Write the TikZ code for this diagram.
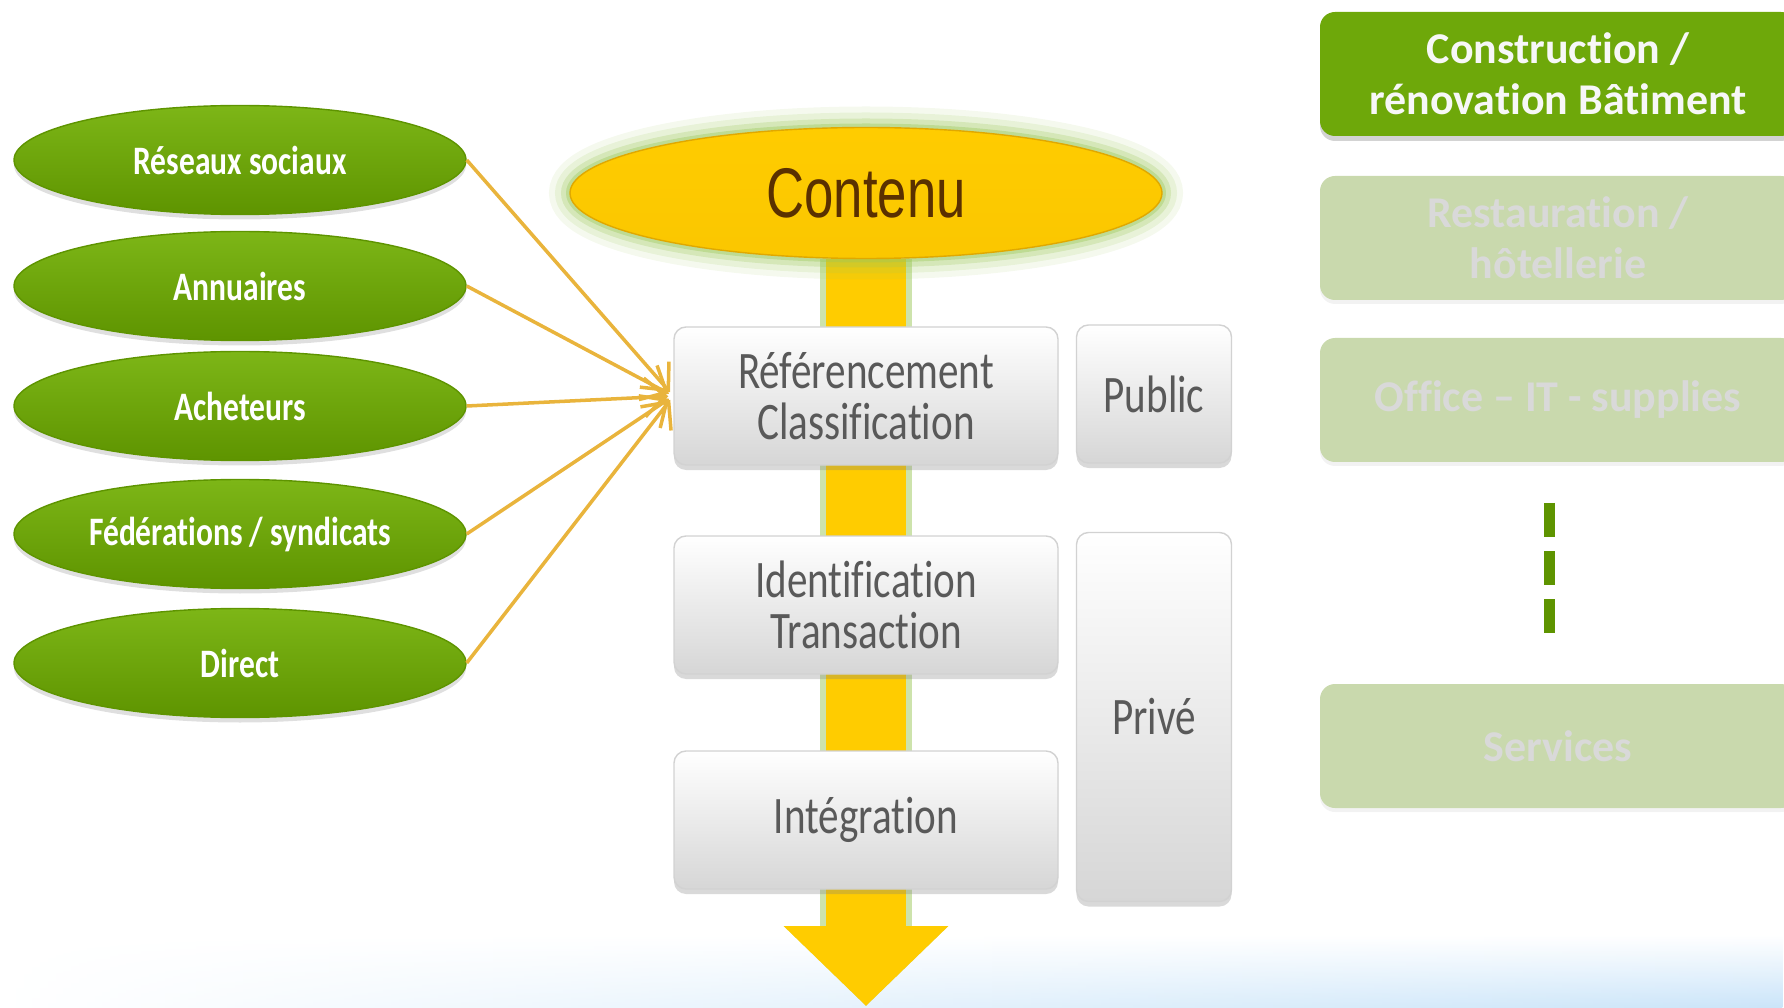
\documentclass[tikz,border=0pt]{standalone}
\usepackage{fontspec}
\setmainfont{Carlito}[FakeStretch=0.78, Ligatures={TeX,NoCommon}]
\newfontfamily\sectorfont{Carlito}[Ligatures={TeX,NoCommon}]
\newfontfamily\contenufont{Liberation Sans}[FakeStretch=0.75]
\usetikzlibrary{shapes.geometric,arrows.meta,shadows,fadings,backgrounds}

\definecolor{leafgreen}{HTML}{6EA80A}
\definecolor{leafdark}{HTML}{5E9400}
\definecolor{leaflight}{HTML}{7DB617}
\definecolor{sun}{HTML}{FFCC00}
\definecolor{sundark}{HTML}{E0A800}
\definecolor{linkgold}{HTML}{E9B43C}
\definecolor{boxgray}{HTML}{D6D6D6}
\definecolor{textgray}{HTML}{595959}
\definecolor{paleleaf}{HTML}{C9D9AD}
\definecolor{paletext}{HTML}{D9D9D9}
\definecolor{skyband}{HTML}{C4E1F8}
\definecolor{glow}{HTML}{9CC85A}
\definecolor{brownish}{HTML}{5A3000}

\tikzfading[name=fade left, left color=transparent!100, right color=transparent!10]

\begin{document}
\begin{tikzpicture}
\tikzstyle{every node}+=[inner sep=0pt]
\tikzstyle{source}=[ellipse, minimum width=4.52cm, minimum height=1.09cm, top color=leaflight, bottom color=leafdark, draw=leafdark, drop shadow={opacity=0.25,shadow xshift=0pt,shadow yshift=-0.05cm}, text=white, font=\bfseries\fontsize{11.5}{12}\selectfont]
\tikzstyle{stage}=[rectangle, rounded corners=0.12cm, minimum width=3.84cm, minimum height=1.38cm, top color=white, bottom color=boxgray, draw=gray!35, drop shadow={opacity=0.3,shadow xshift=0pt,shadow yshift=-0.05cm}, text=textgray, align=center, font=\fontsize{15}{14.6}\selectfont]
\tikzstyle{access}=[stage, minimum width=1.55cm]
\tikzstyle{sector}=[rectangle, rounded corners=0.15cm, minimum width=4.76cm, minimum height=1.24cm, align=center, font=\sectorfont\bfseries\fontsize{12.5}{14.6}\selectfont]
\tikzstyle{active}=[sector, fill=leafgreen, text=white!94!gray, drop shadow={opacity=0.35,shadow xshift=0pt,shadow yshift=-0.05cm}]
\tikzstyle{faded}=[sector, fill=paleleaf, text=paletext, drop shadow={opacity=0.1,shadow xshift=0pt,shadow yshift=-0.04cm}]
\tikzstyle{link}=[draw=linkgold, line width=1pt, shorten >=0.05cm, -{Straight Barb[length=6pt,width=11pt]}]
\tikzstyle{flow}=[draw=sun, line width=0.8cm, -{Triangle[width=1.6cm,length=0.8cm]}, preaction={draw=glow, line width=0.92cm, opacity=0.5}]
\useasboundingbox (0,0) rectangle (17.84,-10.08);
\clip (0,0) rectangle (17.84,-10.08);
\node [source] (reseaux) at (2.40,-1.60) {Réseaux sociaux};
\node [source] (annuaires) at (2.40,-2.86) {Annuaires};
\node [source] (acheteurs) at (2.40,-4.06) {Acheteurs};
\node [source] (federations) at (2.40,-5.34) {Fédérations / syndicats};
\node [source] (direct) at (2.40,-6.63) {Direct};
\node [ellipse, minimum width=5.92cm, minimum height=1.31cm, top color=sun, bottom color=sun!85!sundark, draw=sundark, preaction={draw=glow, line width=0.42cm, opacity=0.1}, preaction={draw=glow, line width=0.3cm, opacity=0.15}, preaction={draw=glow, line width=0.18cm, opacity=0.25}, preaction={draw=glow, line width=0.08cm, opacity=0.4}, text=brownish, font=\contenufont\fontsize{20}{20}\selectfont] (contenu) at (8.66,-1.93) {Contenu};
\node [stage] (referencement) at (8.66,-3.96) {Référencement\\Classification};
\node [stage] (identification) at (8.66,-6.05) {Identification\\Transaction};
\node [stage] (integration) at (8.66,-8.20) {Intégration};
\node [access] (public) at (11.54,-3.94) {Public};
\node [access, minimum height=3.69cm] (prive) at (11.54,-7.17) {Privé};
\node [active] (construction) at (15.58,-0.74) {Construction /\\rénovation Bâtiment};
\node [faded] (restauration) at (15.58,-2.38) {Restauration /\\hôtellerie};
\node [faded] (office) at (15.58,-4.00) {Office – IT - supplies};
\node [faded] (services) at (15.58,-7.46) {Services};
\coordinate (tip) at (8.66,-10.06);
\coordinate (dots top) at (15.49,-5.03);
\coordinate (dots bottom) at (15.49,-6.33);
\draw [link] (reseaux.east) -- (referencement.west);
\draw [link] (annuaires.east) -- (referencement.west);
\draw [link] (acheteurs.east) -- (referencement.west);
\draw [link] (federations.east) -- (referencement.west);
\draw [link] (direct.east) -- (referencement.west);
\draw [leafdark, line width=0.11cm, dash pattern=on 0.34cm off 0.14cm] (dots top) -- (dots bottom);
\begin{pgfonlayer}{background}
\shade [top color=white, bottom color=skyband, path fading=fade left] (0,-9.35) rectangle (17.84,-10.08);
\draw [flow] (contenu.south) -- (tip);
\end{pgfonlayer}
\end{tikzpicture}
\end{document}
